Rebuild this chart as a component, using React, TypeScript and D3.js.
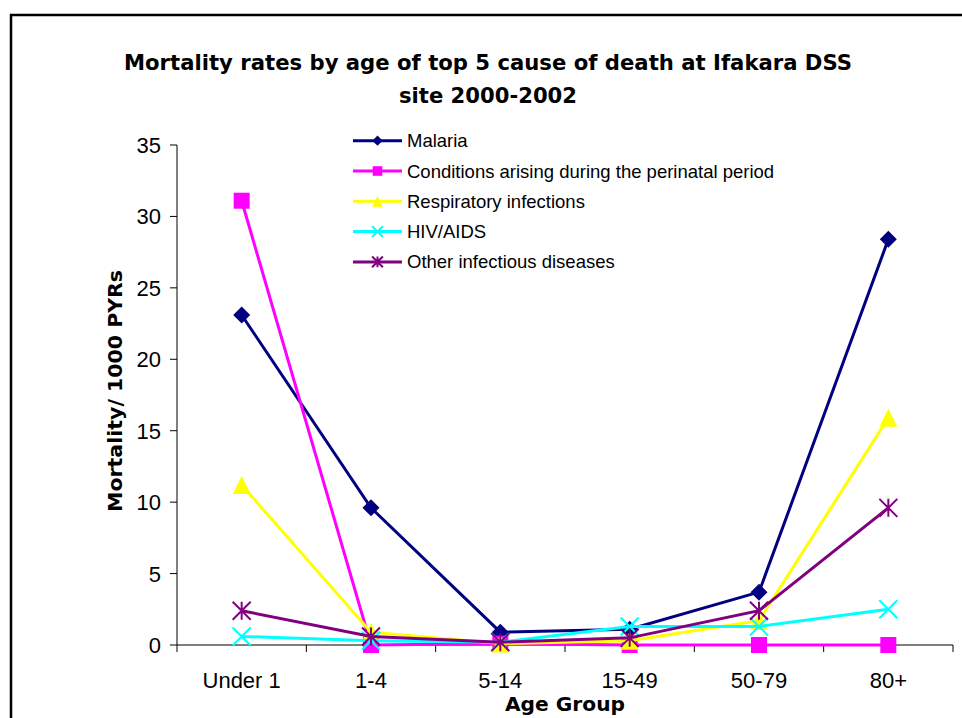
import React from "react";
import * as d3 from "d3";

const categories = ["Under 1", "1-4", "5-14", "15-49", "50-79", "80+"];
const malaria = [23.1, 9.6, 0.9, 1.1, 3.7, 28.4];
const perinatal = [31.1, 0.0, 0.1, 0.0, 0.0, 0.0];
const respiratory = [11.2, 0.9, 0.1, 0.3, 1.7, 15.9];
const hivAids = [0.6, 0.3, 0.2, 1.3, 1.3, 2.5];
const otherInfectious = [2.4, 0.6, 0.2, 0.5, 2.4, 9.6];
const yTicks = [0, 5, 10, 15, 20, 25, 30, 35];
const seriesNames = [
  "Malaria",
  "Conditions arising during the perinatal period",
  "Respiratory infections",
  "HIV/AIDS",
  "Other infectious diseases",
];

const series = [
  { name: seriesNames[0], values: malaria, color: "#000080", marker: "diamond" },
  { name: seriesNames[1], values: perinatal, color: "#FF00FF", marker: "square" },
  { name: seriesNames[2], values: respiratory, color: "#FFFF00", marker: "triangle" },
  { name: seriesNames[3], values: hivAids, color: "#00FFFF", marker: "x" },
  { name: seriesNames[4], values: otherInfectious, color: "#800080", marker: "star" },
];

function Marker({ type, x, y, color, scale = 1 }: { type: string; x: number; y: number; color: string; scale?: number }) {
  const s = scale;
  if (type === "diamond") {
    const r = 8.5 * s;
    return <path d={`M${x},${y - r}L${x + r},${y}L${x},${y + r}L${x - r},${y}Z`} fill={color} />;
  }
  if (type === "square") {
    const h = 8 * s;
    return <rect x={x - h} y={y - h} width={2 * h} height={2 * h} fill={color} />;
  }
  if (type === "triangle") {
    const h = 9 * s;
    return <path d={`M${x},${y - h}L${x + h},${y + h}L${x - h},${y + h}Z`} fill={color} />;
  }
  if (type === "x") {
    const h = 9 * s;
    return (
      <path d={`M${x - h},${y - h}L${x + h},${y + h}M${x - h},${y + h}L${x + h},${y - h}`} stroke={color} strokeWidth={2} fill="none" />
    );
  }
  const h = 9 * s;
  return (
    <path
      d={`M${x - h},${y - h}L${x + h},${y + h}M${x - h},${y + h}L${x + h},${y - h}M${x},${y - h}L${x},${y + h}`}
      stroke={color}
      strokeWidth={2}
      fill="none"
    />
  );
}

export default function App() {
  const x = d3.scaleBand<string>().domain(categories).range([177, 953]);
  const y = d3.scaleLinear().domain([0, 35]).range([645, 145]);
  const cx = (c: string) => (x(c) as number) + x.bandwidth() / 2;
  const line = d3
    .line<number>()
    .x((_, i) => cx(categories[i]))
    .y((v) => y(v));

  const boundaries = [x.range()[0], ...categories.map((c) => (x(c) as number) + x.bandwidth())];
  const tickFont = "'Liberation Sans', Arial, sans-serif";
  const boldFont = "'DejaVu Sans', Verdana, sans-serif";

  return (
    <svg width={962} height={718} style={{ position: "absolute", left: 0, top: 0, background: "#fff" }}>
      <rect x={0} y={0} width={962} height={718} fill="#fff" />
      <path d="M11,730L11,15L975,15" fill="none" stroke="#000" strokeWidth={2.5} />

      <text x={488} y={70} textAnchor="middle" fontFamily={boldFont} fontWeight="bold" fontSize={22} textLength={728} lengthAdjust="spacingAndGlyphs">
        Mortality rates by age of top 5 cause of death at Ifakara DSS
      </text>
      <text x={488} y={103} textAnchor="middle" fontFamily={boldFont} fontWeight="bold" fontSize={22} textLength={178} lengthAdjust="spacingAndGlyphs">
        site 2000-2002
      </text>

      {/* y axis */}
      <line x1={177} x2={177} y1={y(35)} y2={y(0)} stroke="#000" strokeWidth={1} />
      {yTicks.map((t) => (
        <g key={t}>
          <line x1={170} x2={177} y1={y(t)} y2={y(t)} stroke="#000" strokeWidth={1} />
          <text x={161} y={y(t) + 8} textAnchor="end" fontFamily={tickFont} fontSize={22} fill="#000">
            {t}
          </text>
        </g>
      ))}
      {/* x axis */}
      <line x1={177} x2={953} y1={y(0)} y2={y(0)} stroke="#000" strokeWidth={1} />
      {boundaries.map((b, i) => (
        <line key={i} x1={b} x2={b} y1={y(0)} y2={y(0) + 7} stroke="#000" strokeWidth={1} />
      ))}
      {categories.map((c) => (
        <text key={c} x={cx(c)} y={688} textAnchor="middle" fontFamily={tickFont} fontSize={22} fill="#000">
          {c}
        </text>
      ))}

      <text x={565} y={711} textAnchor="middle" fontFamily={boldFont} fontWeight="bold" fontSize={20} textLength={120} lengthAdjust="spacingAndGlyphs">
        Age Group
      </text>
      <text
        transform={`translate(122,391) rotate(-90)`}
        textAnchor="middle"
        fontFamily={boldFont}
        fontWeight="bold"
        fontSize={20}
        textLength={242}
        lengthAdjust="spacingAndGlyphs"
      >
        Mortality/ 1000 PYRs
      </text>

      {/* series */}
      {series.map((s) => (
        <g key={s.name}>
          <path d={line(s.values) as string} fill="none" stroke={s.color} strokeWidth={3} />
          {s.values.map((v, i) => (
            <Marker key={i} type={s.marker} x={cx(categories[i])} y={y(v)} color={s.color} />
          ))}
        </g>
      ))}

      {/* legend */}
      {series.map((s, i) => {
        const ly = 140.7 + i * 30.3;
        return (
          <g key={s.name}>
            <line x1={353} x2={402} y1={ly} y2={ly} stroke={s.color} strokeWidth={3} />
            <Marker type={s.marker} x={377.5} y={ly} color={s.color} scale={0.6} />
            <text x={407} y={ly + 6.5} fontFamily={tickFont} fontSize={18.5} fill="#000">
              {s.name}
            </text>
          </g>
        );
      })}
    </svg>
  );
}
